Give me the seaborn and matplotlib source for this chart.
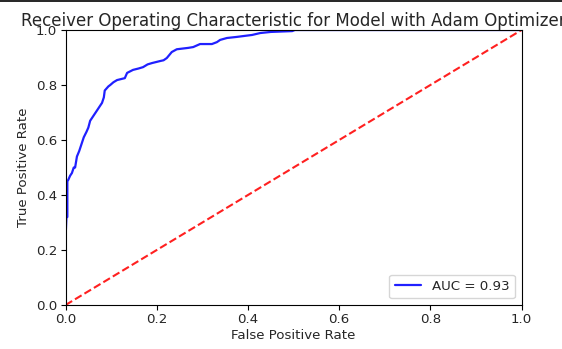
import matplotlib
matplotlib.use("Agg")
import matplotlib.pyplot as plt
import seaborn as sns
import pandas as pd
from matplotlib.lines import Line2D

# ROC curve values
fpr = [0.0, 0.0, 0.002, 0.004, 0.004, 0.006, 0.010, 0.014, 0.018, 0.021, 0.025,
       0.030, 0.034, 0.036, 0.040, 0.046, 0.050, 0.054, 0.058, 0.062, 0.068,
       0.074, 0.080, 0.084, 0.086, 0.094, 0.098, 0.105, 0.113, 0.130, 0.135,
       0.148, 0.160, 0.170, 0.180, 0.190, 0.207, 0.215, 0.222, 0.228, 0.233,
       0.244, 0.269, 0.280, 0.295, 0.321, 0.332, 0.339, 0.354, 0.376, 0.390,
       0.409, 0.427, 0.450, 0.497, 0.503, 0.525, 1.0]
tpr = [0.0, 0.24, 0.32, 0.32, 0.45, 0.455, 0.47, 0.48, 0.50, 0.50, 0.54,
       0.56, 0.58, 0.59, 0.61, 0.63, 0.645, 0.67, 0.68, 0.69, 0.705,
       0.72, 0.735, 0.755, 0.78, 0.795, 0.80, 0.81, 0.818, 0.825, 0.844,
       0.855, 0.86, 0.865, 0.875, 0.88, 0.887, 0.89, 0.898, 0.91, 0.92,
       0.93, 0.935, 0.938, 0.949, 0.949, 0.956, 0.964, 0.971, 0.975, 0.978,
       0.982, 0.989, 0.993, 0.996, 1.0, 1.0, 1.0]
diag_x = [0.0, 1.0]
diag_y = [0.0, 1.0]
auc_value = 0.93
title = "Receiver Operating Characteristic for Model with Adam Optimizer"
xlabel = "False Positive Rate"
ylabel = "True Positive Rate"
ticks = [0.0, 0.2, 0.4, 0.6, 0.8, 1.0]

sns.set_style("white")
plt.rcParams["font.family"] = ["DejaVu Sans"]

fig = plt.figure(figsize=(5.62, 3.49), dpi=100)
ax = fig.add_axes([0.1166, 0.126, 0.8114, 0.788])

roc = pd.DataFrame({"fpr": fpr, "tpr": tpr})
diag = pd.DataFrame({"x": diag_x, "y": diag_y})

sns.lineplot(data=roc, x="fpr", y="tpr", sort=False, estimator=None,
             color="#2020ff", lw=1.6, label="AUC = %0.2f" % auc_value, ax=ax)
sns.lineplot(data=diag, x="x", y="y", sort=False, estimator=None,
             color="#ff2020", lw=1.5, ax=ax)
ax.lines[-1].set_linestyle("--")

ax.set_xlim(0, 1)
ax.set_ylim(0, 1)
ax.set_xticks(ticks)
ax.set_yticks(ticks)
ax.set_xticklabels([f"{t:.1f}" for t in ticks])
ax.set_yticklabels([f"{t:.1f}" for t in ticks])
ax.tick_params(axis="both", which="major", length=3.5, width=0.8, direction="out",
               bottom=True, left=True, labelsize=9.6, color="black", labelcolor="#262626", pad=2.5)
for s in ax.spines.values():
    s.set_visible(True)
    s.set_color("black")
    s.set_linewidth(0.8)

ax.set_xlabel(xlabel, fontsize=9.6, color="#262626", labelpad=2)
ax.set_ylabel(ylabel, fontsize=9.6, color="#262626", labelpad=4)
ax.set_title(title, fontsize=12, color="#262626", pad=3)

leg = ax.legend(loc="lower right", fontsize=9.6, frameon=True, fancybox=True,
                edgecolor="#cccccc", framealpha=0.8, handlelength=2.0)

fig.add_artist(Line2D([0, 1], [0.998, 0.998], transform=fig.transFigure,
                      color="black", lw=1.2))

fig.savefig("out.png", dpi=100, facecolor="white")
